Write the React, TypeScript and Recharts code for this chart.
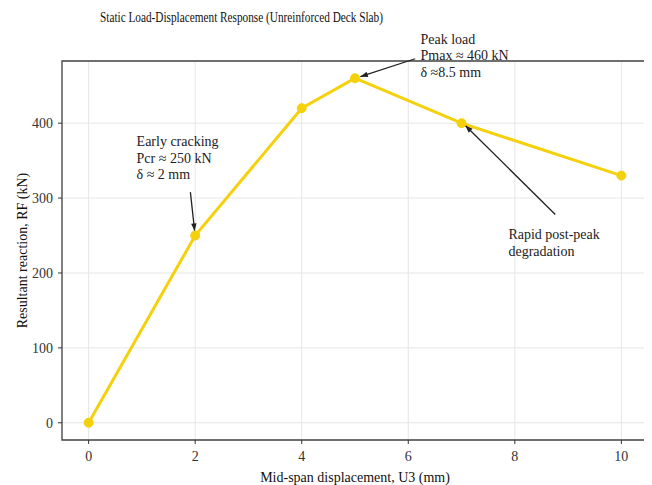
import React from 'react';
import {
  LineChart,
  Line,
  XAxis,
  YAxis,
  CartesianGrid,
  ReferenceLine,
  ReferenceDot,
  ReferenceArea,
} from 'recharts';

const displacement = [0, 2, 4, 5, 7, 10];
const reaction = [0, 250, 420, 460, 400, 330];
const xTicks = [0, 2, 4, 6, 8, 10];
const yTicks = [0, 100, 200, 300, 400];

const noteLines = [
  ['Early cracking', 'Pcr \u2248 250 kN', '\u03b4 \u2248 2 mm'],
  ['Peak load', 'Pmax \u2248 460 kN', '\u03b4 \u22488.5 mm'],
  ['Rapid post-peak', 'degradation'],
];
const noteAt = [
  { x: 0.9, y: 369 },
  { x: 6.23, y: 506 },
  { x: 7.88, y: 245 },
];
const arrowFrom = [
  { x: 1.91, y: 308 },
  { x: 6.13, y: 486 },
  { x: 8.76, y: 278 },
];
const arrowTo = [
  { x: 1.99, y: 256 },
  { x: 5.1, y: 462 },
  { x: 7.07, y: 397 },
];

const data = displacement.map((d, i) => ({ d, rf: reaction[i] }));

const FONT = '"Liberation Serif", "DejaVu Serif", serif';
const GOLD = '#F4D10C';

function Arrow(props: any) {
  const { x1, y1, x2, y2 } = props;
  if ([x1, y1, x2, y2].some((v) => typeof v !== 'number')) return <g />;
  const ang = Math.atan2(y2 - y1, x2 - x1);
  const len = 8;
  const spread = 0.35;
  const p1 = [x2 - len * Math.cos(ang - spread), y2 - len * Math.sin(ang - spread)];
  const p2 = [x2 - len * Math.cos(ang + spread), y2 - len * Math.sin(ang + spread)];
  return (
    <g>
      <line x1={x1} y1={y1} x2={x2} y2={y2} stroke="#222" strokeWidth={1.3} />
      <polygon points={`${x2},${y2} ${p1[0]},${p1[1]} ${p2[0]},${p2[1]}`} fill="#222" />
    </g>
  );
}

function noteShape(lines: string[]) {
  return (props: any) => {
    const { cx, cy } = props;
    return (
      <text x={cx} y={cy} fontFamily={FONT} fontSize={14} fill="#222">
        {lines.map((l, i) => (
          <tspan key={i} x={cx} dy={i === 0 ? 0 : 16.5}>
            {l}
          </tspan>
        ))}
      </text>
    );
  };
}

export default function App() {
  return (
    <div style={{ width: 644, height: 477, position: 'relative' }}>
      <LineChart
        width={644}
        height={477}
        data={data}
        margin={{ top: 53, right: 4, left: 10, bottom: 0 }}
      >
        <text
          x={92}
          y={14}
          fontFamily={FONT}
          fontSize={14}
          fill="#111"
          textLength={283}
          lengthAdjust="spacingAndGlyphs"
        >
          Static Load-Displacement Response (Unreinforced Deck Slab)
        </text>
        <CartesianGrid stroke="#e6e6e6" strokeWidth={1} />
        <XAxis
          dataKey="d"
          type="number"
          domain={[-0.5, 10.5]}
          ticks={xTicks}
          allowDataOverflow
          height={45}
          axisLine={false}
          tickLine={{ stroke: '#333' }}
          tickSize={4}
          tick={{ fontFamily: FONT, fontSize: 14, fill: '#333', dy: 5 }}
          label={{
            value: 'Mid-span displacement, U3 (mm)',
            position: 'insideBottom',
            offset: 3,
            style: { fontFamily: FONT, fontSize: 14, fill: '#111' },
          }}
        />
        <YAxis
          dataKey="rf"
          type="number"
          domain={[-23, 483]}
          ticks={yTicks}
          allowDataOverflow
          width={44}
          axisLine={false}
          tickLine={{ stroke: '#333' }}
          tickSize={4}
          tick={{ fontFamily: FONT, fontSize: 14, fill: '#333', dx: -3 }}
          label={{
            value: 'Resultant reaction, RF (kN)',
            angle: -90,
            position: 'insideLeft',
            offset: 0,
            dx: 4,
            style: { fontFamily: FONT, fontSize: 14, fill: '#111', textAnchor: 'middle' },
          }}
        />
        <ReferenceArea
          x1={-0.5}
          x2={10.5}
          y1={-23}
          y2={483}
          fill="none"
          stroke="#444"
          strokeWidth={1.3}
          ifOverflow="visible"
        />
        <Line
          dataKey="rf"
          stroke={GOLD}
          strokeWidth={3}
          dot={{ r: 4.5, fill: GOLD, stroke: GOLD, strokeWidth: 1 }}
          isAnimationActive={false}
        />
        {arrowFrom.map((a, i) => (
          <ReferenceLine
            key={`arr${i}`}
            segment={[a, arrowTo[i]]}
            ifOverflow="visible"
            shape={Arrow}
          />
        ))}
        {noteAt.map((n, i) => (
          <ReferenceDot
            key={`note${i}`}
            x={n.x}
            y={n.y}
            r={0}
            ifOverflow="visible"
            shape={noteShape(noteLines[i])}
          />
        ))}
      </LineChart>
    </div>
  );
}
